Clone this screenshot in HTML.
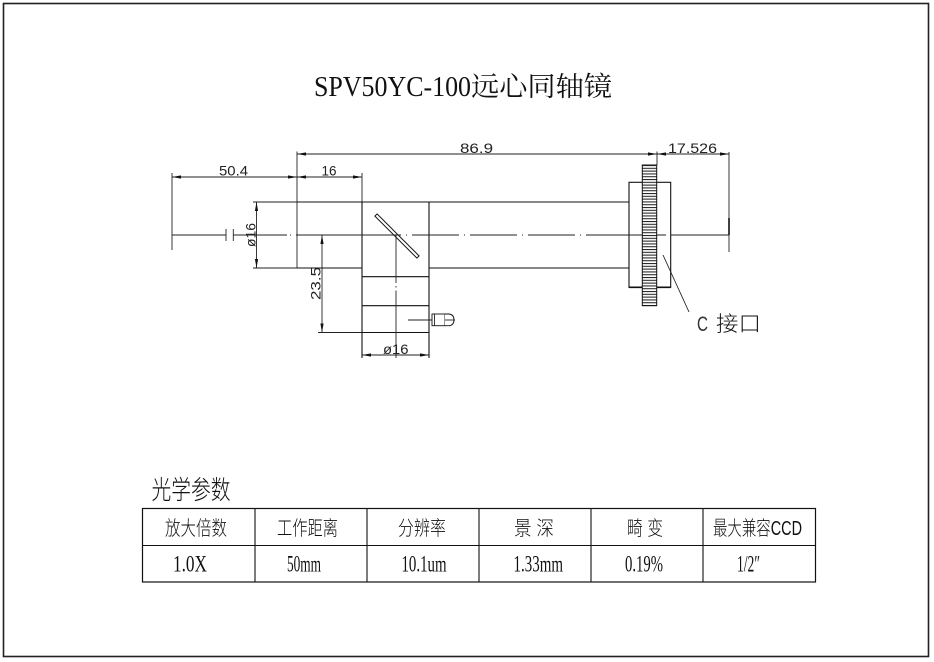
<!DOCTYPE html>
<html>
<head>
<meta charset="utf-8">
<style>
  html,body{margin:0;padding:0;background:#fff;}
  svg{display:block;}
  .l{stroke:#111;stroke-width:1.1;fill:none;}
  .t{stroke:#222;stroke-width:0.9;fill:none;}
  .dim{font-family:"Liberation Sans",sans-serif;font-size:14px;fill:#222;}
  .cjk{font-family:"Liberation Sans","Noto Sans CJK SC",sans-serif;fill:#111;font-weight:300;}
  .ser{font-family:"Liberation Serif","Noto Serif CJK SC",serif;fill:#111;}
</style>
</head>
<body>
<svg width="934" height="662" viewBox="0 0 934 662" xmlns="http://www.w3.org/2000/svg">
  <defs>
    <pattern id="knurl" patternUnits="userSpaceOnUse" x="0" y="165" width="20" height="2.8">
      <rect x="0" y="0" width="20" height="2.8" fill="#fff"/>
      <line x1="0" y1="0.5" x2="20" y2="0.5" stroke="#222" stroke-width="1"/>
    </pattern>
  </defs>
  <rect width="934" height="662" fill="#fff"/>
  <!-- outer border -->
  <rect x="3.5" y="3.5" width="925" height="653" fill="none" stroke="#222" stroke-width="1.6"/>

  <!-- title -->
  <text class="ser" x="314" y="96" style="font-size:28px" textLength="157" lengthAdjust="spacingAndGlyphs">SPV50YC-100</text>
  <text class="ser" x="471" y="96" style="font-size:27px" textLength="141" lengthAdjust="spacingAndGlyphs">远心同轴镜</text>

  <!-- ===== dimensions ===== -->
  <!-- 50.4 -->
  <line class="t" x1="172" y1="177" x2="297" y2="177"/>
  <polygon points="172,177 181,175.4 181,178.6" fill="#111"/>
  <polygon points="297,177 288,175.4 288,178.6" fill="#111"/>
  <text class="dim" x="219" y="175.5" textLength="29" lengthAdjust="spacingAndGlyphs">50.4</text>
  <line class="t" x1="172" y1="173" x2="172" y2="250"/>

  <!-- 16 -->
  <line class="t" x1="297" y1="177" x2="362" y2="177"/>
  <polygon points="297,177 306,175.4 306,178.6" fill="#111"/>
  <polygon points="362,177 353,175.4 353,178.6" fill="#111"/>
  <text class="dim" x="321.5" y="175.5" textLength="15" lengthAdjust="spacingAndGlyphs">16</text>
  <line class="t" x1="362" y1="173" x2="362" y2="202"/>

  <!-- 86.9 -->
  <line class="t" x1="297" y1="154" x2="657" y2="154"/>
  <polygon points="297,154 306,152.4 306,155.6" fill="#111"/>
  <polygon points="657,154 648,152.4 648,155.6" fill="#111"/>
  <text class="dim" x="460" y="153" textLength="33" lengthAdjust="spacingAndGlyphs">86.9</text>
  <line class="t" x1="297" y1="151.5" x2="297" y2="268"/>

  <!-- 17.526 -->
  <line class="t" x1="657" y1="154" x2="729" y2="154"/>
  <polygon points="657,154 666,152.4 666,155.6" fill="#111"/>
  <polygon points="729,154 720,152.4 720,155.6" fill="#111"/>
  <text class="dim" x="668" y="153" textLength="49" lengthAdjust="spacingAndGlyphs">17.526</text>
  <line class="t" x1="657" y1="151.5" x2="657" y2="165"/>
  <line class="t" x1="729" y1="152" x2="729" y2="252"/>
  <line x1="729" y1="218" x2="729" y2="235" stroke="#111" stroke-width="1.6"/>

  <!-- ø16 left -->
  <line class="t" x1="253" y1="202" x2="297" y2="202"/>
  <line class="t" x1="253" y1="268" x2="297" y2="268"/>
  <line class="t" x1="256.5" y1="202" x2="256.5" y2="268"/>
  <polygon points="256.5,202 254.9,211 258.1,211" fill="#111"/>
  <polygon points="256.5,268 254.9,259 258.1,259" fill="#111"/>
  <text class="dim" transform="translate(255.5,247) rotate(-90)" x="0" y="0" textLength="24" lengthAdjust="spacingAndGlyphs">ø16</text>

  <!-- 23.5 -->
  <line class="t" x1="318" y1="235" x2="362" y2="235"/>
  <line class="t" x1="318" y1="332.5" x2="362" y2="332.5"/>
  <line class="t" x1="322" y1="235" x2="322" y2="332.5"/>
  <polygon points="322,235 320.4,244 323.6,244" fill="#111"/>
  <polygon points="322,332.5 320.4,323.5 323.6,323.5" fill="#111"/>
  <text class="dim" transform="translate(320.5,300) rotate(-90)" x="0" y="0" textLength="33" lengthAdjust="spacingAndGlyphs">23.5</text>

  <!-- ø16 bottom -->
  <line class="t" x1="362" y1="355" x2="429" y2="355"/>
  <polygon points="362,355 371,353.4 371,356.6" fill="#111"/>
  <polygon points="429,355 420,353.4 420,356.6" fill="#111"/>
  <text class="dim" x="383" y="354" textLength="25.5" lengthAdjust="spacingAndGlyphs">ø16</text>

  <!-- ===== body ===== -->
  <line class="l" x1="297" y1="202" x2="629" y2="202"/>
  <line class="l" x1="297" y1="268" x2="362" y2="268"/>
  <line class="l" x1="429" y1="268" x2="629" y2="268"/>
  <!-- cube -->
  <line class="l" x1="362" y1="202" x2="362" y2="358"/>
  <line class="l" x1="429" y1="202" x2="429" y2="358"/>
  <line class="l" x1="362" y1="276.7" x2="429" y2="276.7"/>
  <line class="l" x1="362" y1="305.7" x2="429" y2="305.7"/>
  <line class="l" x1="362" y1="332.5" x2="429" y2="332.5"/>

  <!-- mirror -->
  <path d="M374.9 216.1 L377.1 213.9 L419.1 255.9 L416.9 258.1 Z" fill="#fff" stroke="#111" stroke-width="1"/>

  <!-- vertical axis in cube -->
  <line class="t" x1="396" y1="235" x2="396" y2="283"/>
  <line class="t" x1="396" y1="286" x2="396" y2="287.5"/>
  <line class="t" x1="396" y1="290.5" x2="396" y2="358"/>

  <!-- screw -->
  <line class="t" x1="408" y1="320" x2="455" y2="320"/>
  <rect x="432" y="314" width="13" height="11.7" fill="#fff" stroke="#111" stroke-width="0.9"/>
  <line class="t" x1="434.5" y1="314" x2="434.5" y2="325.7"/>
  <path d="M445 314 L449 314 Q454 314.5 454 319.85 Q454 325.2 449 325.7 L445 325.7" fill="#fff" stroke="#111" stroke-width="0.9"/>
  <line class="t" x1="445" y1="320" x2="455" y2="320"/>

  <!-- centerline -->
  <line class="t" x1="172" y1="235" x2="226" y2="235"/>
  <line class="t" x1="226" y1="229" x2="226" y2="241"/>
  <line class="t" x1="233.3" y1="229" x2="233.3" y2="241"/>
  <line class="t" x1="233.3" y1="235" x2="287" y2="235"/>
  <line class="t" x1="290" y1="235" x2="729" y2="235" stroke-dasharray="1 5 47 5"/>

  <!-- flange -->
  <rect x="629" y="182.3" width="41.7" height="105" fill="#fff" stroke="#111" stroke-width="1.1"/>
  <line x1="629" y1="287.3" x2="670.7" y2="287.3" stroke="#111" stroke-width="1.6"/>
  <line class="t" x1="629" y1="235" x2="729" y2="235" stroke-dasharray="47 5 1 5" stroke-dashoffset="10"/>
  <!-- knurled ring -->
  <rect x="642.3" y="165" width="14.4" height="140.7" fill="url(#knurl)" stroke="#111" stroke-width="1"/>

  <!-- leader + label -->
  <line class="t" x1="663" y1="255" x2="689" y2="312"/>
  <text x="697" y="331" style="font-family:'Liberation Sans',sans-serif;font-size:21px;fill:#333" textLength="11" lengthAdjust="spacingAndGlyphs">C</text>
  <text class="cjk" x="716" y="331" style="font-size:21px" textLength="45" lengthAdjust="spacingAndGlyphs">接口</text>

  <!-- ===== table ===== -->
  <text class="cjk" x="151.5" y="499" style="font-size:26px" textLength="79" lengthAdjust="spacingAndGlyphs">光学参数</text>
  <rect x="142.5" y="508.5" width="673" height="73.5" fill="none" stroke="#111" stroke-width="1.2"/>
  <line class="l" x1="142.5" y1="545.5" x2="815.5" y2="545.5"/>
  <line class="l" x1="255" y1="508.5" x2="255" y2="582"/>
  <line class="l" x1="367" y1="508.5" x2="367" y2="582"/>
  <line class="l" x1="479" y1="508.5" x2="479" y2="582"/>
  <line class="l" x1="591" y1="508.5" x2="591" y2="582"/>
  <line class="l" x1="703" y1="508.5" x2="703" y2="582"/>

  <g class="cjk" style="font-size:20px">
    <text x="165" y="535" textLength="62" lengthAdjust="spacingAndGlyphs">放大倍数</text>
    <text x="277" y="535" textLength="61" lengthAdjust="spacingAndGlyphs">工作距离</text>
    <text x="398" y="535" textLength="48" lengthAdjust="spacingAndGlyphs">分辨率</text>
    <text x="514" y="535" textLength="40" lengthAdjust="spacingAndGlyphs">景 深</text>
    <text x="627" y="535" textLength="36" lengthAdjust="spacingAndGlyphs">畸 变</text>
    <text x="713" y="535" textLength="89" lengthAdjust="spacingAndGlyphs">最大兼容CCD</text>
  </g>
  <g class="ser" style="font-size:23px">
    <text x="173" y="571.5" textLength="34" lengthAdjust="spacingAndGlyphs">1.0X</text>
    <text x="287" y="571.5" textLength="34" lengthAdjust="spacingAndGlyphs">50mm</text>
    <text x="401.5" y="571.5" textLength="45" lengthAdjust="spacingAndGlyphs">10.1um</text>
    <text x="513.5" y="571.5" textLength="49.5" lengthAdjust="spacingAndGlyphs">1.33mm</text>
    <text x="625" y="571.5" textLength="38" lengthAdjust="spacingAndGlyphs">0.19%</text>
    <text x="737" y="571.5" textLength="23" lengthAdjust="spacingAndGlyphs">1/2″</text>
  </g>
</svg>
</body>
</html>
